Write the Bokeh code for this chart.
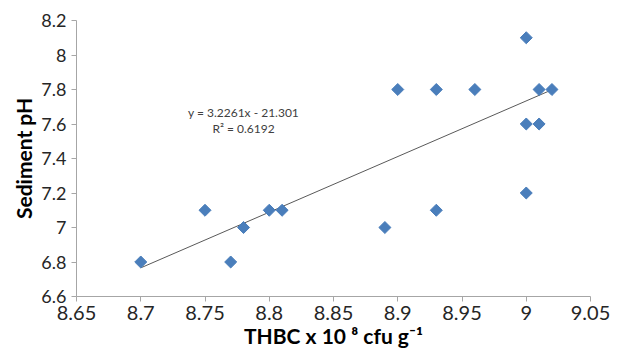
import numpy as np
from bokeh.plotting import figure
from bokeh.models import Label, FixedTicker, Range1d
from bokeh.embed import file_html
from bokeh.resources import INLINE

# Data
thbc = [8.70, 8.75, 8.77, 8.78, 8.80, 8.81, 8.89, 8.90, 8.93, 8.93, 8.96,
        9.00, 9.00, 9.00, 9.01, 9.01, 9.02]
ph = [6.8, 7.1, 6.8, 7.0, 7.1, 7.1, 7.0, 7.8, 7.8, 7.1, 7.8,
      8.1, 7.6, 7.2, 7.8, 7.6, 7.8]
slope = 3.2261
intercept = -21.301
x_ticks = [8.65, 8.7, 8.75, 8.8, 8.85, 8.9, 8.95, 9.0, 9.05]
y_ticks = [6.6, 6.8, 7.0, 7.2, 7.4, 7.6, 7.8, 8.0, 8.2]
eq_text = "y = 3.2261x - 21.301"
r2_text = "R² = 0.6192"
x_title = "THBC x 10 ⁸ cfu g⁻¹"
y_title = "Sediment pH"

FONT = "Lato"

p = figure(width=614, height=350,
           min_border_left=76, min_border_right=24,
           min_border_top=20, min_border_bottom=49,
           x_range=Range1d(8.65, 9.05), y_range=Range1d(6.6, 8.2),
           output_backend="svg", toolbar_location=None)
p.outline_line_color = None
p.grid.grid_line_color = None
p.background_fill_color = "white"
p.border_fill_color = "white"

for ax in (p.xaxis[0], p.yaxis[0]):
    ax.axis_line_color = "#a6a6a6"
    ax.major_tick_line_color = "#a6a6a6"
    ax.major_tick_out = 5
    ax.major_tick_in = 0
    ax.minor_tick_line_color = None
    ax.major_label_text_font = FONT
    ax.major_label_text_color = "#262626"
    ax.axis_label_text_font = FONT
    ax.axis_label_text_font_style = "bold"
    ax.axis_label_text_font_size = "21px"
    ax.axis_label_text_color = "#000000"

p.xaxis.major_label_text_font_size = "20px"
p.yaxis.major_label_text_font_size = "18px"
p.xaxis.ticker = FixedTicker(ticks=x_ticks)
p.yaxis.ticker = FixedTicker(ticks=y_ticks)
p.xaxis.major_label_overrides = {t: ("9" if t == 9.0 else f"{t:g}") for t in x_ticks}
p.yaxis.major_label_overrides = {t: f"{t:g}" for t in y_ticks}
p.xaxis.axis_label = x_title
p.yaxis.axis_label = y_title
p.xaxis.major_label_standoff = 4
p.xaxis.axis_label_standoff = 0
p.yaxis.major_label_standoff = 5
p.yaxis.axis_label_standoff = 2

# trendline
xs = np.array([min(thbc), max(thbc)])
p.line(xs, slope * xs + intercept, line_color="#595959", line_width=1)

# points
p.scatter(thbc, ph, marker="square", size=8.5, angle=np.pi / 4,
          fill_color="#4A7EBB", line_color="#4A7EBB")

p.add_layout(Label(x=8.78, y=7.667, text=eq_text, text_font=FONT,
                   text_font_size="12px", text_color="#404040",
                   text_align="center", text_baseline="middle"))
p.add_layout(Label(x=8.78, y=7.574, text=r2_text, text_font=FONT,
                   text_font_size="12px", text_color="#404040",
                   text_align="center", text_baseline="middle"))

open("out.html", "w").write(file_html(p, INLINE))
